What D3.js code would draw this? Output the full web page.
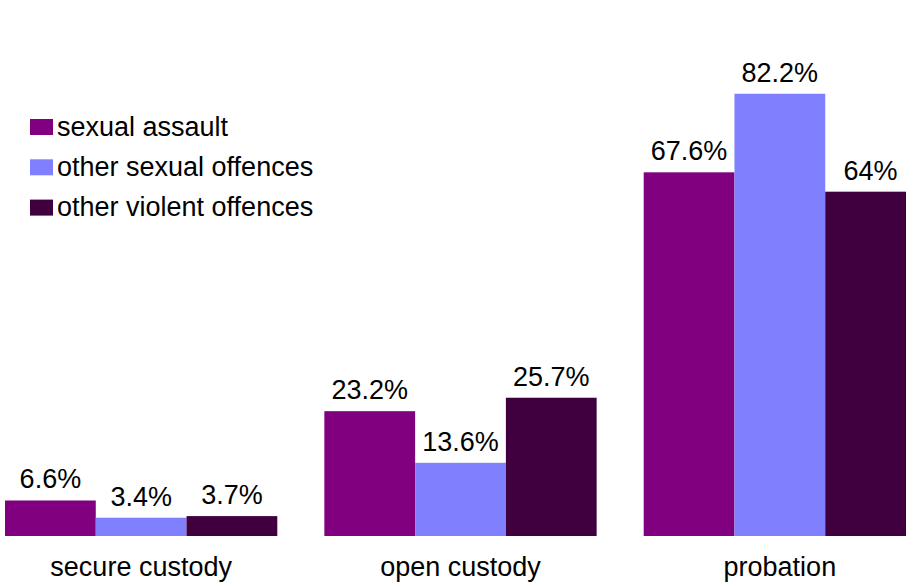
<!DOCTYPE html>
<html>
<head>
<meta charset="utf-8">
<script src="https://cdn.jsdelivr.net/npm/d3@7"></script>
<style>
  html, body { margin: 0; padding: 0; background: #fff; }
  svg { display: block; font-family: "Liberation Sans", Arial, sans-serif; }
</style>
</head>
<body>
<svg id="chart" width="906" height="583"></svg>
<script>
// Sentence type by offence category (percent of cases)
const categories = ["secure custody", "open custody", "probation"];
const seriesNames = ["sexual assault", "other sexual offences", "other violent offences"];
const sexualAssault = [6.6, 23.2, 67.6];
const otherSexual = [3.4, 13.6, 82.2];
const otherViolent = [3.7, 25.7, 64];
const valueLabels = [
  ["6.6%", "23.2%", "67.6%"],
  ["3.4%", "13.6%", "82.2%"],
  ["3.7%", "25.7%", "64%"]
];
const colors = ["#800080", "#8080ff", "#400040"];

const seriesValues = [sexualAssault, otherSexual, otherViolent];

const svg = d3.select("#chart");
const baseY = 536;
const fontSize = 27;

const x0 = d3.scaleBand()
  .domain(categories)
  .range([5, 916])
  .paddingInner(47 / 319)
  .paddingOuter(0);

const x1 = d3.scaleBand()
  .domain(seriesNames)
  .range([0, x0.bandwidth()])
  .padding(0);

const y = d3.scaleLinear()
  .domain([0, 100])
  .range([baseY, baseY - 538]);

const groups = svg.append("g")
  .selectAll("g")
  .data(categories)
  .join("g")
  .attr("transform", d => `translate(${x0(d)},0)`);

groups.each(function (cat, ci) {
  const g = d3.select(this);
  const rows = seriesNames.map((s, si) => ({
    s, si, v: seriesValues[si][ci], label: valueLabels[si][ci]
  }));
  g.selectAll("rect")
    .data(rows)
    .join("rect")
    .attr("x", d => x1(d.s))
    .attr("y", d => y(d.v))
    .attr("width", x1.bandwidth())
    .attr("height", d => baseY - y(d.v))
    .attr("fill", d => colors[d.si]);
  g.selectAll("text.val")
    .data(rows)
    .join("text")
    .attr("class", "val")
    .attr("x", d => x1(d.s) + x1.bandwidth() / 2)
    .attr("y", d => y(d.v) - 12)
    .attr("text-anchor", "middle")
    .attr("font-size", fontSize)
    .attr("fill", "#000")
    .text(d => d.label);
});

// Category axis labels (no axis line drawn)
const xAxis = d3.axisBottom(x0).tickSize(0).tickPadding(0);
const axisG = svg.append("g")
  .attr("transform", `translate(0,${baseY})`)
  .call(xAxis);
axisG.select(".domain").remove();
axisG.selectAll("text")
  .attr("font-family", "Liberation Sans, Arial, sans-serif")
  .attr("font-size", fontSize)
  .attr("fill", "#000")
  .attr("dy", 0)
  .attr("y", 40);

// Legend
const legend = svg.append("g").attr("transform", "translate(30,119)");
const items = legend.selectAll("g")
  .data(seriesNames)
  .join("g")
  .attr("transform", (d, i) => `translate(0,${i * 40.3})`);
items.append("rect")
  .attr("width", 23)
  .attr("height", 16)
  .attr("fill", (d, i) => colors[i]);
items.append("text")
  .attr("x", 27)
  .attr("y", 16.7)
  .attr("font-size", fontSize)
  .attr("fill", "#000")
  .text(d => d);
</script>
</body>
</html>
